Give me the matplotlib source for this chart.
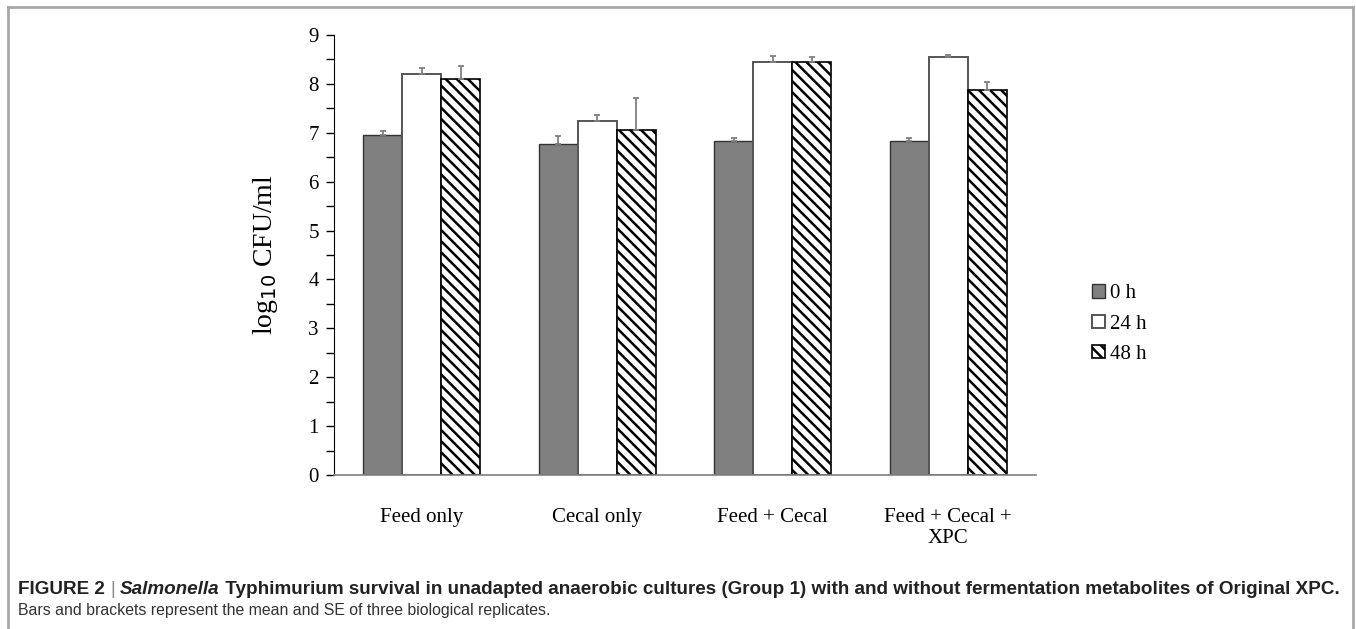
import numpy as np
import matplotlib
matplotlib.use('Agg')
import matplotlib.pyplot as plt
from matplotlib.lines import Line2D

# data
groups = ['Feed only', 'Cecal only', 'Feed + Cecal', 'Feed + Cecal +\nXPC']
series = ['0 h', '24 h', '48 h']
h0 = [6.95, 6.77, 6.84, 6.84]
err0 = [0.09, 0.16, 0.06, 0.06]
h24 = [8.21, 7.24, 8.45, 8.54]
err24 = [0.11, 0.13, 0.12, 0.05]
h48 = [8.10, 7.05, 8.45, 7.87]
err48 = [0.26, 0.67, 0.10, 0.17]

plt.rcParams['font.family'] = ['Liberation Serif', 'DejaVu Serif']
plt.rcParams['hatch.linewidth'] = 1.8
plt.rcParams['hatch.color'] = 'black'

fig = plt.figure(figsize=(13.56, 6.29), dpi=100)
ax = fig.add_axes([0.2463, 0.2448, 0.5177, 0.6996])

x = np.arange(len(groups))
w = 0.222
ekw = dict(ecolor='#808080', elinewidth=1.3, capsize=2.5, capthick=1.3)

ax.bar(x - w, h0, w, yerr=[np.zeros(4), err0], color='#808080',
       edgecolor='#333333', linewidth=1.0, label=series[0], error_kw=ekw)
ax.bar(x, h24, w, yerr=[np.zeros(4), err24], color='white',
       edgecolor='#555555', linewidth=1.4, label=series[1], error_kw=ekw)
ax.bar(x + w, h48, w, yerr=[np.zeros(4), err48], color='white',
       edgecolor='black', linewidth=1.2, hatch='\\\\\\', label=series[2],
       error_kw=ekw)

ax.set_xlim(-0.5, 3.5)
ax.set_ylim(0, 9)
ax.set_yticks(range(10))
ax.set_yticks(np.arange(0.5, 9, 1), minor=True)
ax.set_xticks(x)
ax.set_xticklabels(groups, fontsize=15, linespacing=1.15)
ax.tick_params(axis='x', length=0, pad=24)
ax.tick_params(axis='y', which='both', direction='out', length=6, width=1,
               labelsize=15, pad=5)
for s in ['top', 'right']:
    ax.spines[s].set_visible(False)
ax.spines['left'].set_color('black')
ax.spines['bottom'].set_color('#808080')
ax.spines['bottom'].set_linewidth(1.2)

ax.set_ylabel(r'log$_{10}$ CFU/ml', fontsize=20, labelpad=20)

fig.legend(loc='upper left', bbox_to_anchor=(1092 / 1356, 0.548), frameon=False,
           fontsize=15, handlelength=0.6, handleheight=0.6,
           handletextpad=0.25, labelspacing=0.55, borderpad=0, borderaxespad=0)

# figure frame
frame_kw = dict(color='#a8a8a8', linewidth=2, transform=fig.transFigure)
fig.add_artist(Line2D([8 / 1356, 8 / 1356], [0, 1 - 7 / 629], **frame_kw))
fig.add_artist(Line2D([1 - 3 / 1356, 1 - 3 / 1356], [0, 1 - 7 / 629], **frame_kw))
fig.add_artist(Line2D([8 / 1356, 1 - 3 / 1356], [1 - 7 / 629, 1 - 7 / 629], **frame_kw))

# caption
cap = ['Liberation Sans', 'DejaVu Sans']
pieces = [('FIGURE 2 ', 'bold', 'normal', '#222222'),
          ('|', 'normal', 'normal', '#888888'),
          (' ', 'bold', 'normal', '#222222'),
          ('Salmonella', 'bold', 'italic', '#222222'),
          (' Typhimurium survival in unadapted anaerobic cultures (Group 1) '
           'with and without fermentation metabolites of Original XPC.',
           'bold', 'normal', '#222222')]
renderer = fig.canvas.get_renderer()
xp = 18
for txt, wt, st, col in pieces:
    t = fig.text(xp / 1356, 1 - 590 / 629, txt, fontsize=13.6, weight=wt,
                 style=st, color=col, family=cap, va='center', ha='left')
    xp += t.get_window_extent(renderer).width
fig.text(18 / 1356, 1 - 611 / 629,
         'Bars and brackets represent the mean and SE of three biological replicates.',
         fontsize=11.4, family=cap, color='#333333', va='center', ha='left')

fig.savefig('out.png', dpi=100)
